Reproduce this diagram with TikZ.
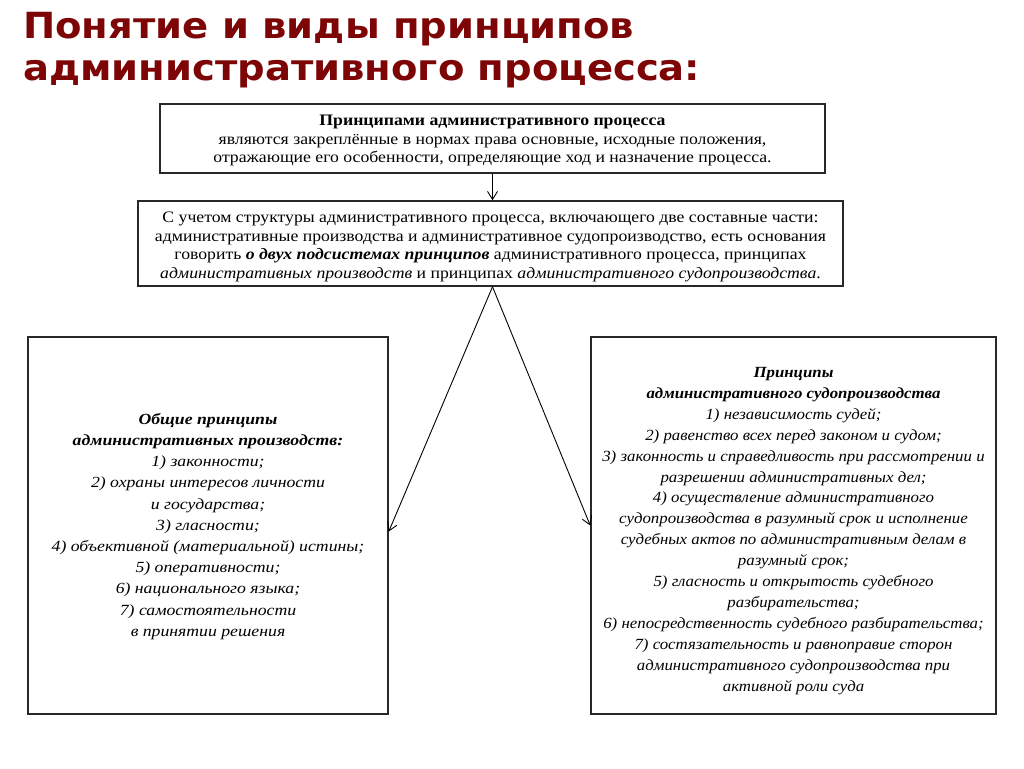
\documentclass[tikz,border=0pt]{standalone}
\usepackage{fontspec}
\setmainfont{Liberation Serif}
\newfontfamily\titlefont[FakeStretch=1.07]{DejaVu Sans}
\newfontfamily\fontA[FakeStretch=1.107]{Liberation Serif}
\newfontfamily\fontL[FakeStretch=1.143]{Liberation Serif}
\newfontfamily\fontR[FakeStretch=1.085]{Liberation Serif}
\usetikzlibrary{arrows.meta}
\definecolor{titlered}{RGB}{125,5,5}
\definecolor{boxline}{RGB}{40,40,40}
\tikzset{
  box/.style={draw=boxline, line width=1.5pt, inner sep=0pt, align=center, fill=white},
  conn/.style={draw=black, line width=0.9pt, -{Straight Barb[length=8pt,width=10pt]}},
  bodytext/.style={font=\fontA\fontsize{16}{18.5}\selectfont},
  ltext/.style={font=\fontL\fontsize{15.5}{21.2}\selectfont\itshape},
  rtext/.style={font=\fontR\fontsize{15.5}{20.9}\selectfont\itshape}
}
\begin{document}
\begin{tikzpicture}[x=1pt,y=-1pt]
\useasboundingbox[fill=white] (0,0) rectangle (1024,768);
\node[anchor=north west, align=left, text=titlered, inner sep=0pt,
  font=\titlefont\bfseries\fontsize{36}{42}\selectfont] (title) at (23,12)
  {Понятие и виды принципов\\административного процесса:};
\node[box, bodytext, minimum width=665pt, minimum height=69pt] (top) at (492.5,138.5)
  {\rule{0pt}{15pt}\textbf{Принципами административного процесса}\\
   являются закреплённые в нормах права основные, исходные положения,\\
   отражающие его особенности, определяющие ход и назначение процесса.};
\node[box, bodytext, minimum width=705pt, minimum height=85pt] (mid) at (490.5,243.5)
  {\rule{0pt}{17pt}С учетом структуры административного процесса, включающего две составные части:\\
   административные производства и административное судопроизводство, есть основания\\
   говорить \textbf{\textit{о двух подсистемах принципов}} административного процесса, принципах\\
   \textit{административных производств} и принципах \textit{административного судопроизводства}.};
\node[box, ltext, minimum width=360pt, minimum height=377pt] (left) at (208,525.5)
  {\rule{0pt}{13pt}\textbf{Общие принципы}\\
   \textbf{административных производств:}\\
   1) законности;\\
   2) охраны интересов личности\\
   и государства;\\
   3) гласности;\\
   4) объективной (материальной) истины;\\
   5) оперативности;\\
   6) национального языка;\\
   7) самостоятельности\\
   в принятии решения};
\node[box, rtext, minimum width=405pt, minimum height=377pt] (right) at (793.5,525.5)
  {\rule{0pt}{21pt}\textbf{Принципы}\\
   \textbf{административного судопроизводства}\\
   1) независимость судей;\\
   2) равенство всех перед законом и судом;\\
   3) законность и справедливость при рассмотрении и\\
   разрешении административных дел;\\
   4) осуществление административного\\
   судопроизводства в разумный срок и исполнение\\
   судебных актов по административным делам в\\
   разумный срок;\\
   5) гласность и открытость судебного\\
   разбирательства;\\
   6) непосредственность судебного разбирательства;\\
   7) состязательность и равноправие сторон\\
   административного судопроизводства при\\
   активной роли суда};
\coordinate (fork) at (top.south |- mid.south);
\draw[conn] (top.south) -- (top.south |- mid.north);
\draw[conn] (fork) -- ([yshift=-6pt]left.east);
\draw[conn] (fork) -- (right.west);
\end{tikzpicture}
\end{document}
